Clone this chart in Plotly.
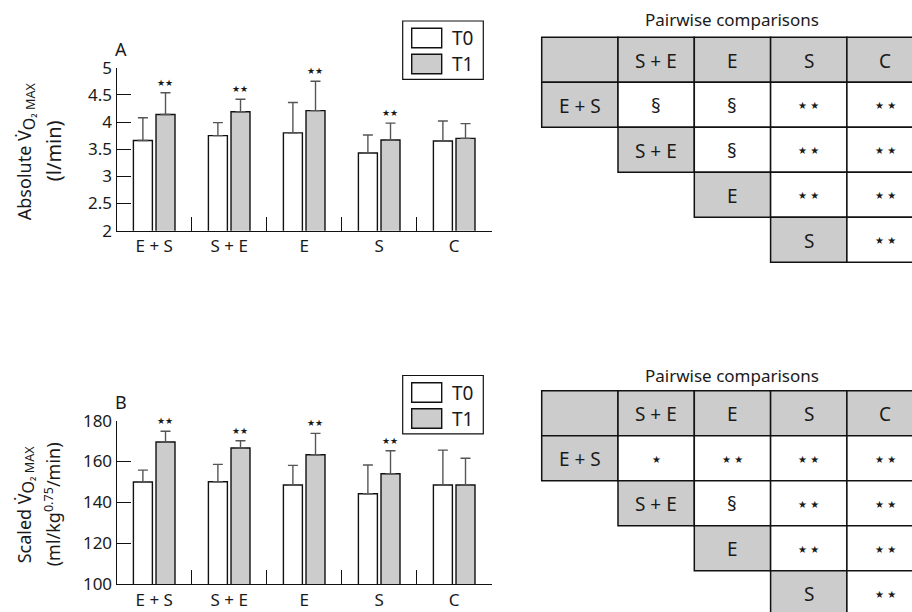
import plotly.graph_objects as go

# ---------------- data ----------------
categories = ["E + S", "S + E", "E", "S", "C"]
series_names = ["T0", "T1"]

# Panel A: absolute VO2max (l/min)
a_t0_mean = [3.66, 3.75, 3.80, 3.43, 3.65]
a_t0_sd = [0.42, 0.24, 0.56, 0.33, 0.37]
a_t1_mean = [4.14, 4.19, 4.21, 3.67, 3.70]
a_t1_sd = [0.40, 0.23, 0.54, 0.31, 0.27]
a_t1_sig = ["★★", "★★", "★★", "★★", ""]

# Panel B: scaled VO2max (ml/kg^0.75/min)
b_t0_mean = [150.0, 150.1, 148.5, 144.2, 148.5]
b_t0_sd = [5.8, 8.5, 9.6, 14.1, 17.1]
b_t1_mean = [169.6, 166.6, 163.3, 154.0, 148.5]
b_t1_sd = [5.2, 3.6, 10.5, 11.3, 13.1]
b_t1_sig = ["★★", "★★", "★★", "★★", ""]

# Pairwise comparison tables
table_cols = ["", "S + E", "E", "S", "C"]
table_rows = ["E + S", "S + E", "E", "S"]
a_pairs = [["§", "§", "★ ★", "★ ★"],
           ["§", "★ ★", "★ ★"],
           ["★ ★", "★ ★"],
           ["★ ★"]]
b_pairs = [["★", "★ ★", "★ ★", "★ ★"],
           ["§", "★ ★", "★ ★"],
           ["★ ★", "★ ★"],
           ["★ ★"]]

# ---------------- styling ----------------
W, H = 912, 612
FONT = "Noto Sans"
TXT = "#1a1a1a"
GRAY = "#cccccc"
ERR = "#555555"


def px(x):
    return x / W


def py(y):
    return 1 - y / H


fig = go.Figure()

vo2 = "V\u0307<sub><span style='font-size:16px'>O</span>\u2082 MAX</sub>"
panels = [
    dict(ax="", mean0=a_t0_mean, sd0=a_t0_sd, mean1=a_t1_mean, sd1=a_t1_sd, sig=a_t1_sig,
         top=67.7, bot=230.7, dy=0, letter="A",
         line1="Absolute " + vo2, line2="(l/min)", l2size=20, pairs=a_pairs,
         ttop=37.3, title_y=19),
    dict(ax="2", mean0=b_t0_mean, sd0=b_t0_sd, mean1=b_t1_mean, sd1=b_t1_sd, sig=b_t1_sig,
         top=420.7, bot=584.0, dy=354.5, letter="B",
         line1="Scaled " + vo2, line2="(ml/kg<sup>0.75</sup>/min)", l2size=18, pairs=b_pairs,
         ttop=390.7, title_y=375),
]

shapes = []
annotations = []

for p in panels:
    xa = "x" + p["ax"]
    ya = "y" + p["ax"]
    for name, mean, sd, fill in [(series_names[0], p["mean0"], p["sd0"], "white"),
                                 (series_names[1], p["mean1"], p["sd1"], GRAY)]:
        fig.add_trace(go.Bar(
            x=categories, y=mean, name=name, xaxis=xa, yaxis=ya,
            marker=dict(color=fill, line=dict(color="#111111", width=1.4)),
            error_y=dict(type="data", symmetric=False, array=sd, arrayminus=[0] * len(sd),
                         color=ERR, thickness=1.4, width=5),
            showlegend=False,
        ))
    # significance stars over T1
    for c, m, s, sig in zip(categories, p["mean1"], p["sd1"], p["sig"]):
        if sig:
            annotations.append(dict(x=c, y=m + s, xref=xa, yref=ya, text=sig, showarrow=False,
                                    xshift=11, yshift=10, font=dict(size=9, color=TXT, family="DejaVu Sans"),
                                    xanchor="center", yanchor="middle"))
    # panel letter
    annotations.append(dict(x=px(120.5), y=py(p["top"] - 19), xref="paper", yref="paper",
                            text=p["letter"], showarrow=False, font=dict(size=18, color=TXT, family=FONT),
                            xanchor="center", yanchor="middle"))
    # y titles
    cy = (p["top"] + p["bot"]) / 2 + 2
    annotations.append(dict(x=px(26), y=py(cy), xref="paper", yref="paper", text=p["line1"],
                            textangle=-90, showarrow=False, font=dict(size=18, color=TXT, family=FONT),
                            xanchor="center", yanchor="middle"))
    annotations.append(dict(x=px(53), y=py(cy), xref="paper", yref="paper", text=p["line2"],
                            textangle=-90, showarrow=False, font=dict(size=p["l2size"], color=TXT, family=FONT),
                            xanchor="center", yanchor="middle"))
    # custom legend
    dy = p["dy"]
    shapes.append(dict(type="rect", xref="paper", yref="paper", x0=px(402.7), x1=px(483.3),
                       y0=py(21 + dy), y1=py(79.3 + dy), line=dict(color="#111111", width=1.2),
                       fillcolor="white"))
    for i, (nm, fill) in enumerate([(series_names[0], "white"), (series_names[1], GRAY)]):
        y0 = 28.3 + dy + i * 26
        shapes.append(dict(type="rect", xref="paper", yref="paper", x0=px(411.7), x1=px(441.7),
                           y0=py(y0), y1=py(y0 + 19.5), line=dict(color="#111111", width=1.4),
                           fillcolor=fill))
        annotations.append(dict(x=px(450), y=py(y0 + 10), xref="paper", yref="paper", text=nm,
                                showarrow=False, font=dict(size=19, color=TXT, family=FONT),
                                xanchor="left", yanchor="middle"))

    # pairwise table
    x0t, cw, rh = 541.7, 76.3, 45.0
    t0 = p["ttop"]
    annotations.append(dict(x=px(731.5), y=py(p["title_y"]), xref="paper", yref="paper",
                            text="Pairwise comparisons", showarrow=False,
                            font=dict(size=17, color=TXT, family=FONT), xanchor="center", yanchor="middle"))
    cells = []
    for j, h in enumerate(table_cols):
        cells.append((0, j, h, GRAY, 19))
    for r, lab in enumerate(table_rows):
        cells.append((r + 1, r, lab, GRAY, 19))
        for k, v in enumerate(p["pairs"][r]):
            cells.append((r + 1, r + 1 + k, v, "white", 10 if "★" in v else 19))
    for (r, j, txt, fill, fs) in cells:
        xa0 = x0t + j * cw
        ya0 = t0 + r * rh
        shapes.append(dict(type="rect", xref="paper", yref="paper", x0=px(xa0), x1=px(xa0 + cw),
                           y0=py(ya0), y1=py(ya0 + rh), line=dict(color="#111111", width=1.5),
                           fillcolor=fill, layer="below"))
        if txt:
            annotations.append(dict(x=px(xa0 + cw / 2), y=py(ya0 + rh / 2 + 1), xref="paper", yref="paper",
                                    text=txt, showarrow=False,
                                    font=dict(size=fs, color=TXT,
                                              family="DejaVu Sans" if "★" in txt else FONT),
                                    xanchor="center", yanchor="middle"))

axis_common = dict(showline=True, linecolor="#111111", linewidth=1.4, ticks="inside", ticklen=14,
                   tickwidth=1.4, tickcolor="#111111", showgrid=False, zeroline=False,
                   automargin=False,
                   tickfont=dict(size=17, color=TXT, family=FONT), fixedrange=True)

fig.update_layout(
    width=W, height=H, margin=dict(l=0, r=0, t=0, b=0, pad=0, autoexpand=False),
    paper_bgcolor="white", plot_bgcolor="white",
    barmode="group", bargap=0.397, bargroupgap=0.16,
    xaxis=dict(domain=[px(116.7), px(491.7)], anchor="y", type="category", tickson="boundaries",
               **axis_common),
    yaxis=dict(domain=[py(230.7), py(67.7)], anchor="x", range=[2, 5], dtick=0.5, **axis_common),
    xaxis2=dict(domain=[px(116.7), px(491.7)], anchor="y2", type="category", tickson="boundaries",
                **axis_common),
    yaxis2=dict(domain=[py(584.0), py(420.7)], anchor="x2", range=[100, 180], dtick=20, **axis_common),
    shapes=shapes, annotations=annotations, showlegend=False,
)

fig.write_html("out.html", config={"displayModeBar": False},
               post_script="document.body.style.margin='0px';document.body.style.overflow='hidden';")
